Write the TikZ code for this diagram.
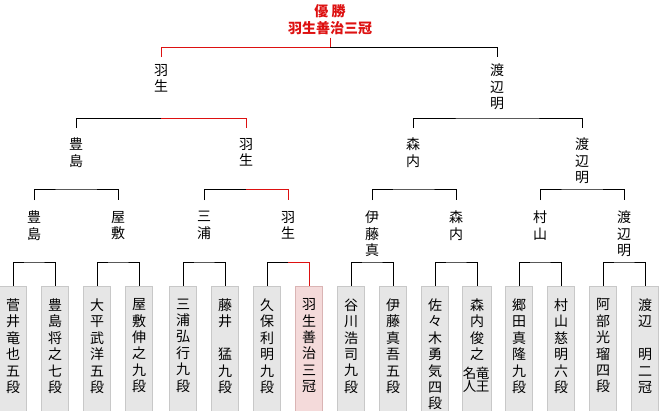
\documentclass[tikz,border=0pt]{standalone}
\usepackage{fontspec}
\setmainfont{Noto Sans CJK JP}
\definecolor{winred}{RGB}{221,17,17}
\definecolor{boxfill}{RGB}{230,230,230}
\definecolor{boxline}{RGB}{200,200,200}
\definecolor{winfill}{RGB}{244,218,218}
\definecolor{winline}{RGB}{218,180,180}
\begin{document}
\begin{tikzpicture}[x=1pt,y=-1pt,
  lab/.style={inner sep=0pt, align=center, anchor=north,
    font=\fontsize{14}{16.4}\selectfont, execute at begin node={\rule{0pt}{12.5pt}}},
  leafbox/.style={draw=boxline, fill=boxfill, line width=1pt, minimum width=27pt,
    minimum height=127pt, anchor=north, inner sep=0pt},
  winbox/.style={leafbox, draw=winline, fill=winfill},
  widebox/.style={leafbox, minimum width=29pt},
  con/.style={line width=1pt, draw=black},
  wcon/.style={line width=1pt, draw=winred}]
\useasboundingbox (0,0) rectangle (660,410);
% title
\node[lab, text=winred, font=\fontsize{14}{17}\selectfont\bfseries] (T) at (330,4) {優 勝\\羽生善治三冠};
% leaf boxes
\node[leafbox] (L1) at (13,286) {};
\node[leafbox] (L2) at (55,286) {};
\node[leafbox] (L3) at (97,286) {};
\node[leafbox] (L4) at (139,286) {};
\node[leafbox] (L5) at (183,286) {};
\node[leafbox] (L6) at (225,286) {};
\node[leafbox] (L7) at (267,286) {};
\node[winbox] (L8) at (309,286) {};
\node[leafbox] (L9) at (351,286) {};
\node[leafbox] (L10) at (393,286) {};
\node[leafbox] (L11) at (435,286) {};
\node[widebox] (L12) at (477,286) {};
\node[leafbox] (L13) at (519,286) {};
\node[leafbox] (L14) at (561,286) {};
\node[leafbox] (L15) at (603,286) {};
\node[leafbox] (L16) at (645,286) {};
% leaf texts
\node[lab] (N1) at (13,298.5) {菅\\井\\竜\\也\\五\\段};
\node[lab] (N2) at (55,298.5) {豊\\島\\将\\之\\七\\段};
\node[lab] (N3) at (97,298.5) {大\\平\\武\\洋\\五\\段};
\node[lab] (N4) at (139,298.5) {屋\\敷\\伸\\之\\九\\段};
\node[lab] (N5) at (183,298.5) {三\\浦\\弘\\行\\九\\段};
\node[lab] (N6) at (225,298.5) {藤\\井\\　\\猛\\九\\段};
\node[lab] (N7) at (267,298.5) {久\\保\\利\\明\\九\\段};
\node[lab] (N8) at (309,298.5) {羽\\生\\善\\治\\三\\冠};
\node[lab] (N9) at (351,298.5) {谷\\川\\浩\\司\\九\\段};
\node[lab] (N10) at (393,298.5) {伊\\藤\\真\\吾\\五\\段};
\node[lab] (N11) at (435,298.5) {佐\\々\\木\\勇\\気\\四\\段};
\node[lab] (N12) at (477,298.5) {森\\内\\俊\\之};
\node[inner sep=0pt, font=\fontsize{13.5}{13.5}\selectfont] (N12b) at (476,380)
  {\hbox{\vbox{\baselineskip=13.5pt\hbox{名}\hbox{人}}\kern-0.5pt\vbox{\baselineskip=13.5pt\hbox{竜}\hbox{王}}}};
\node[lab] (N13) at (519,298.5) {郷\\田\\真\\隆\\九\\段};
\node[lab] (N14) at (561,298.5) {村\\山\\慈\\明\\六\\段};
\node[lab] (N15) at (603,298.5) {阿\\部\\光\\瑠\\四\\段};
\node[lab] (N16) at (645,298.5) {渡\\辺\\　\\明\\二\\冠};
% quarter-final nodes
\node[lab] (Q1) at (34,211) {豊\\島};
\node[lab] (Q2) at (118,211) {屋\\敷};
\node[lab] (Q3) at (204,211) {三\\浦};
\node[lab] (Q4) at (288,211) {羽\\生};
\node[lab] (Q5) at (372,211) {伊\\藤\\真};
\node[lab] (Q6) at (456,211) {森\\内};
\node[lab] (Q7) at (540,211) {村\\山};
\node[lab] (Q8) at (624,211) {渡\\辺\\明};
% semi-final nodes
\node[lab] (S1) at (76,138) {豊\\島};
\node[lab] (S2) at (246,138) {羽\\生};
\node[lab] (S3) at (413,138) {森\\内};
\node[lab] (S4) at (582,138) {渡\\辺\\明};
% final nodes
\node[lab] (F1) at (161,64) {羽\\生};
\node[lab] (F2) at (497,64) {渡\\辺\\明};
% bracket midpoints
\coordinate (c1) at (34,262);
\coordinate (c2) at (118,262);
\coordinate (c3) at (204,262);
\coordinate (c4) at (288,262);
\coordinate (c5) at (372,262);
\coordinate (c6) at (456,262);
\coordinate (c7) at (540,262);
\coordinate (c8) at (624,262);
\coordinate (d1) at (76,189);
\coordinate (d2) at (246,189);
\coordinate (d3) at (413,189);
\coordinate (d4) at (582,189);
\coordinate (e1) at (161,118);
\coordinate (e2) at (497,118);
\coordinate (f0) at (330,47);
% leaf brackets
\draw[con] (L1.north) |- (c1) -| (L2.north);
\draw[con] (L3.north) |- (c2) -| (L4.north);
\draw[con] (L5.north) |- (c3) -| (L6.north);
\draw[con] (L7.north) |- (c4);
\draw[wcon] (c4) -| (L8.north);
\draw[con] (L9.north) |- (c5) -| (L10.north);
\draw[con] (L11.north) |- (c6) -| (L12.north);
\draw[con] (L13.north) |- (c7) -| (L14.north);
\draw[con] (L15.north) |- (c8) -| (L16.north);
% quarter-final brackets
\draw[con] ([yshift=11pt]Q1.north) |- (d1) -| ([yshift=11pt]Q2.north);
\draw[con] ([yshift=11pt]Q3.north) |- (d2);
\draw[wcon] (d2) -| ([yshift=11pt]Q4.north);
\draw[con] ([yshift=11pt]Q5.north) |- (d3) -| ([yshift=11pt]Q6.north);
\draw[con] ([yshift=11pt]Q7.north) |- (d4) -| ([yshift=11pt]Q8.north);
% semi-final brackets
\draw[con] ([yshift=10pt]S1.north) |- (e1);
\draw[wcon] (e1) -| ([yshift=10pt]S2.north);
\draw[con] ([yshift=10pt]S3.north) |- (e2) -| ([yshift=10pt]S4.north);
% final bracket
\draw[wcon] ([yshift=7pt]F1.north) |- (f0);
\draw[con] (f0) -| ([yshift=7pt]F2.north);
\draw[wcon] ([yshift=-3pt]T.south) -- (f0);
\end{tikzpicture}
\end{document}
